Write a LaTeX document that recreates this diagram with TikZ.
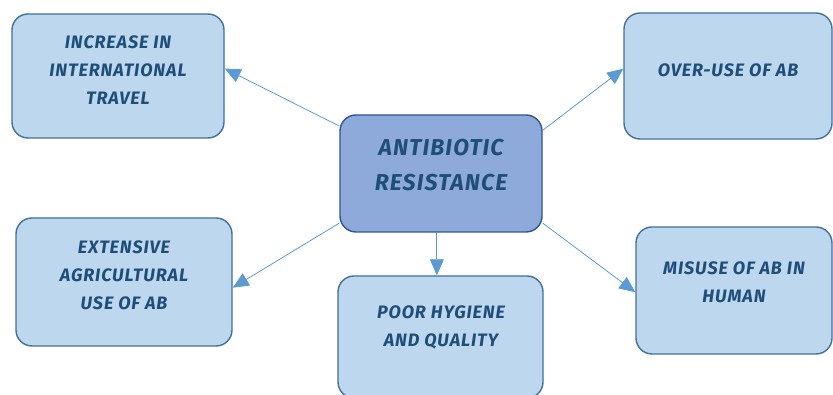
\documentclass[tikz,border=0pt]{standalone}
\usepackage{fontspec}
\setmainfont{Fira Sans}
\newfontfamily\boxfont[LetterSpace=5]{Fira Sans}
\usepackage{tikz}
\usetikzlibrary{arrows.meta}
\definecolor{boxfill}{HTML}{BDD7EE}
\definecolor{boxline}{HTML}{41719C}
\definecolor{mainfill}{HTML}{8EAADB}
\definecolor{mainline}{HTML}{2F5597}
\definecolor{txtblue}{HTML}{1F4E79}
\definecolor{linkblue}{HTML}{5B9BD5}
\tikzstyle{cause} = [rectangle, draw=boxline, fill=boxfill, line width=1.4pt, rounded corners=16pt]
\tikzstyle{mainbox} = [rectangle, draw=mainline, fill=mainfill, line width=1.4pt, rounded corners=16pt]
\tikzstyle{txt} = [align=center, text=txtblue, font=\boxfont\bfseries\itshape\fontsize{18}{28}\selectfont]
\tikzstyle{bigtxt} = [align=center, text=txtblue, font=\boxfont\bfseries\itshape\fontsize{23}{35}\selectfont]
\tikzstyle{arrow} = [draw=linkblue, line width=0.8pt, -{Triangle[length=16pt,width=14pt]}]

\begin{document}
\begin{tikzpicture}[x=1pt,y=1pt]
\useasboundingbox (0,0) rectangle (833,395);

% boxes
\node[mainbox, minimum width=202pt, minimum height=117pt] (res) at (441,221.5) {};
\node[cause, minimum width=212pt, minimum height=124pt] (travel) at (118,319) {};
\node[cause, minimum width=208pt, minimum height=126pt] (overuse) at (728,319) {};
\node[cause, minimum width=216pt, minimum height=128pt] (agri) at (124,113) {};
\node[cause, minimum width=196pt, minimum height=127pt] (misuse) at (734,104.5) {};
\node[cause, minimum width=205pt, minimum height=122pt] (hygiene) at (440.5,58) {};

% texts
\node[bigtxt] (resT) at (441,230) {ANTIBIOTIC\\RESISTANCE};
\node[txt] (travelT) at (118,325) {INCREASE IN\\INTERNATIONAL\\TRAVEL};
\node[txt] (overuseT) at (728,325) {OVER-USE OF AB};
\node[txt] (agriT) at (124,120) {EXTENSIVE\\AGRICULTURAL\\USE OF AB};
\node[txt] (misuseT) at (734,113) {MISUSE OF AB IN\\HUMAN};
\node[txt] (hygieneT) at (441,68) {POOR HYGIENE\\AND QUALITY};

% arrows
\draw[arrow] (res.155) -- (travel.4);
\draw[arrow] (res.23) -- (overuse.176);
\draw[arrow] (res.206) -- (agri.357);
\draw[arrow] (res.334) -- (misuse.181);
\draw[arrow] (res.266) -- (res.266 |- hygiene.north);

\end{tikzpicture}
\end{document}
